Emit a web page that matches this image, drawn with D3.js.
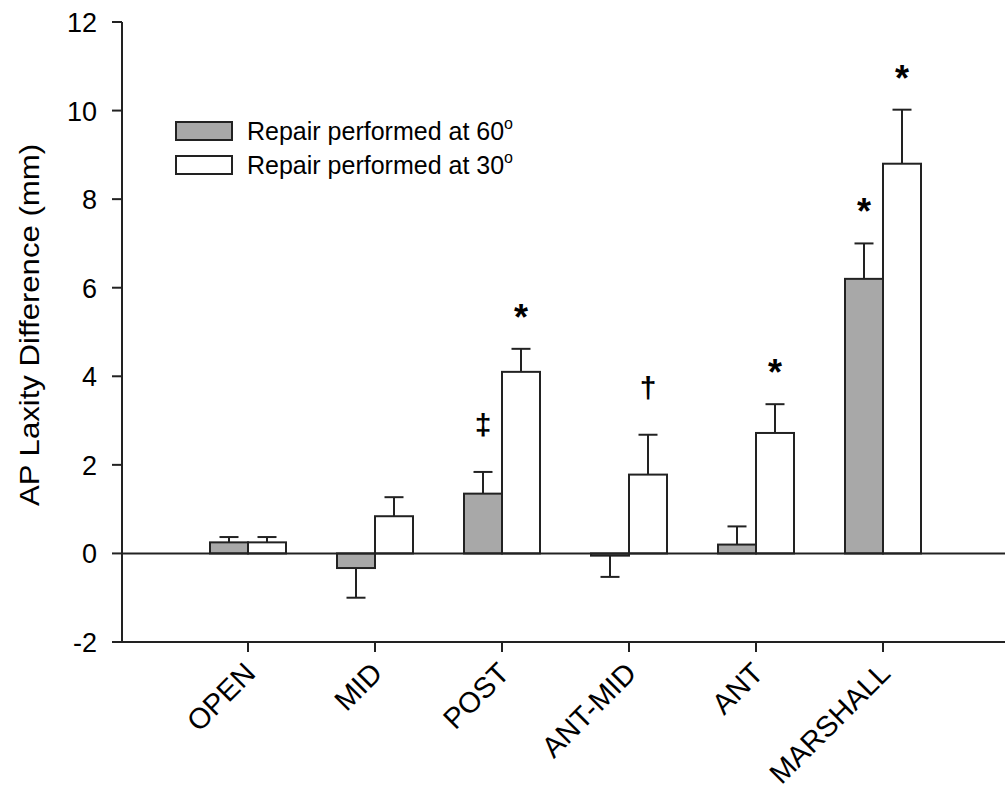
<!DOCTYPE html>
<html>
<head>
<meta charset="utf-8">
<script src="https://cdn.jsdelivr.net/npm/d3@7"></script>
<style>
  body { margin: 0; background: #fff; }
  svg { font-family: Arial, "Liberation Sans", sans-serif; }
</style>
</head>
<body>
<svg id="chart" width="1005" height="789"></svg>
<script>
// values
const categories = ['OPEN', 'MID', 'POST', 'ANT-MID', 'ANT', 'MARSHALL'];
const repair60 = [0.25, -0.33, 1.35, -0.05, 0.2, 6.2];
const repair60Err = [0.12, 0.67, 0.49, 0.48, 0.41, 0.8];
const repair30 = [0.25, 0.84, 4.1, 1.78, 2.72, 8.8];
const repair30Err = [0.12, 0.43, 0.52, 0.9, 0.65, 1.22];
const marks60 = ['', '', '\u2021', '', '', '*'];
const marks30 = ['', '', '*', '\u2020', '*', '*'];
const yTicks = [-2, 0, 2, 4, 6, 8, 10, 12];
const seriesNames = ['Repair performed at 60', 'Repair performed at 30'];

let svg = d3.select('#chart'),
width = +svg.attr('width');

const barW = 38;
const capW = 19;

let x = d3.scalePoint().domain(categories).range([248, 883]);
let y = d3.scaleLinear().domain([-2, 12]).range([642, 22]);

const series = [
  { name: seriesNames[0], vals: repair60, err: repair60Err, marks: marks60, fill: '#a8a8a8', off: -barW },
  { name: seriesNames[1], vals: repair30, err: repair30Err, marks: marks30, fill: '#ffffff', off: 0 }
];

// left axis
svg.append('line')
  .attr('x1', 122).attr('x2', 122)
  .attr('y1', y(12)).attr('y2', y(-2))
  .attr('stroke', '#222').attr('stroke-width', 2);

svg.selectAll('.ytick')
  .data(yTicks)
  .enter()
  .append('line')
  .attr('x1', 112).attr('x2', 122)
  .attr('y1', (d) => y(d)).attr('y2', (d) => y(d))
  .attr('stroke', '#222').attr('stroke-width', 2);

svg.selectAll('.ylab')
  .data(yTicks)
  .enter()
  .append('text')
  .attr('x', 97)
  .attr('y', (d) => y(d) + 10)
  .attr('text-anchor', 'end')
  .attr('font-size', 27)
  .text((d) => d);

svg.append('text')
  .attr('transform', 'translate(39,' + (y(5) - 7) + ') rotate(-90)')
  .attr('text-anchor', 'middle')
  .attr('font-size', 28)
  .attr('textLength', 362)
  .attr('lengthAdjust', 'spacingAndGlyphs')
  .text('AP Laxity Difference (mm)');

// bottom axis + zero line
svg.append('line')
  .attr('x1', 122).attr('x2', width)
  .attr('y1', y(-2)).attr('y2', y(-2))
  .attr('stroke', '#222').attr('stroke-width', 2);

svg.selectAll('.xtick')
  .data(categories)
  .enter()
  .append('line')
  .attr('x1', (d) => x(d)).attr('x2', (d) => x(d))
  .attr('y1', y(-2)).attr('y2', y(-2) + 10)
  .attr('stroke', '#222').attr('stroke-width', 2);

svg.selectAll('.xlab')
  .data(categories)
  .enter()
  .append('text')
  .attr('transform', (d) => 'translate(' + (x(d) + 9) + ',' + (y(-2) + 33) + ') rotate(-45)')
  .attr('text-anchor', 'end')
  .attr('font-size', 29)
  .text((d) => d);

// bars
series.forEach((s) => {
  let g = svg.append('g');
  let rows = categories.map((c, i) => ({ c: c, v: s.vals[i], e: s.err[i], m: s.marks[i] }));

  g.selectAll('line.err')
    .data(rows)
    .enter()
    .append('line')
    .attr('x1', (d) => x(d.c) + s.off + barW / 2)
    .attr('x2', (d) => x(d.c) + s.off + barW / 2)
    .attr('y1', (d) => y(d.v))
    .attr('y2', (d) => y(d.v + (d.v < 0 ? -d.e : d.e)))
    .attr('stroke', '#222').attr('stroke-width', 2);

  g.selectAll('line.cap')
    .data(rows)
    .enter()
    .append('line')
    .attr('x1', (d) => x(d.c) + s.off + barW / 2 - capW / 2)
    .attr('x2', (d) => x(d.c) + s.off + barW / 2 + capW / 2)
    .attr('y1', (d) => y(d.v + (d.v < 0 ? -d.e : d.e)))
    .attr('y2', (d) => y(d.v + (d.v < 0 ? -d.e : d.e)))
    .attr('stroke', '#222').attr('stroke-width', 2);

  g.selectAll('rect')
    .data(rows)
    .enter()
    .append('rect')
    .attr('x', (d) => x(d.c) + s.off)
    .attr('y', (d) => y(Math.max(0, d.v)))
    .attr('width', barW)
    .attr('height', (d) => Math.abs(y(d.v) - y(0)))
    .attr('fill', s.fill)
    .attr('stroke', '#222').attr('stroke-width', 2);

  g.selectAll('text')
    .data(rows.filter((d) => d.m))
    .enter()
    .append('text')
    .attr('x', (d) => x(d.c) + s.off + barW / 2)
    .attr('y', (d) => y(d.v + d.e) - (d.m === '*' ? 19 : 37))
    .attr('text-anchor', 'middle')
    .attr('font-size', (d) => d.m === '*' ? 36 : 30)
    .attr('font-weight', 'bold')
    .text((d) => d.m);
});

svg.append('line')
  .attr('x1', 122).attr('x2', width)
  .attr('y1', y(0)).attr('y2', y(0))
  .attr('stroke', '#222').attr('stroke-width', 2);

// legend
let legend = svg.append('g')
  .selectAll('g')
  .data(series)
  .enter()
  .append('g')
  .attr('transform', (d, i) => 'translate(176,' + (122 + i * 34) + ')');

legend.append('rect')
  .attr('width', 56)
  .attr('height', 18)
  .attr('fill', (d) => d.fill)
  .attr('stroke', '#222').attr('stroke-width', 2);

let lt = legend.append('text')
  .attr('x', 71)
  .attr('y', 18)
  .attr('font-size', 25);
lt.append('tspan').text((d) => d.name);
lt.append('tspan')
  .attr('dy', -11)
  .attr('font-size', 16)
  .text('o');
</script>
</body>
</html>
